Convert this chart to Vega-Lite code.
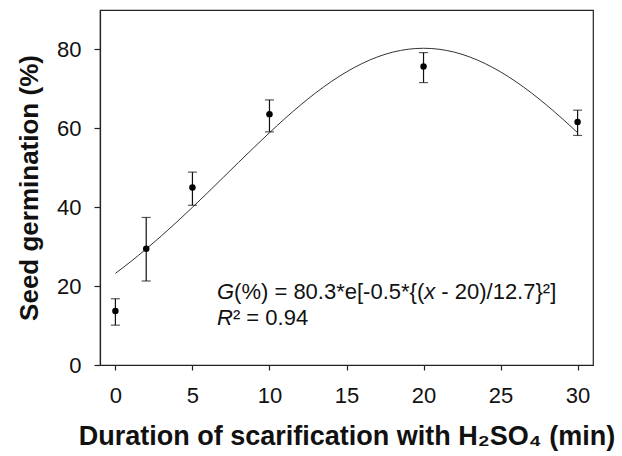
{
  "$schema": "https://vega.github.io/schema/vega-lite/v6.json",
  "width": 493,
  "height": 355,
  "autosize": "none",
  "padding": {"left": 100, "top": 10, "right": 29, "bottom": 91},
  "background": "white",
  "config": {
    "font": "Liberation Sans",
    "view": {"stroke": "#222222", "strokeWidth": 1.2},
    "axis": {
      "grid": false,
      "domainColor": "#222222",
      "domainWidth": 1.2,
      "tickColor": "#222222",
      "tickWidth": 1.2,
      "labelFont": "Liberation Sans",
      "labelFontSize": 22,
      "labelColor": "#111111",
      "titleFont": "Liberation Sans",
      "titleFontWeight": "bold",
      "titleColor": "#111111"
    }
  },
  "datasets": {
    "points": [
      {"time": 0, "germ": 13.7, "lo": 10.1, "hi": 16.8},
      {"time": 2, "germ": 29.5, "lo": 21.3, "hi": 37.4},
      {"time": 5, "germ": 45.0, "lo": 40.5, "hi": 48.9},
      {"time": 10, "germ": 63.6, "lo": 59.1, "hi": 67.2},
      {"time": 20, "germ": 75.7, "lo": 71.6, "hi": 79.2},
      {"time": 30, "germ": 61.6, "lo": 58.2, "hi": 64.6}
    ],
    "curve": [
      {"time": 0, "fit": 23.24}, {"time": 1, "fit": 26.23}, {"time": 2, "fit": 29.42},
      {"time": 3, "fit": 32.78}, {"time": 4, "fit": 36.31}, {"time": 5, "fit": 39.97},
      {"time": 6, "fit": 43.74}, {"time": 7, "fit": 47.56}, {"time": 8, "fit": 51.39},
      {"time": 9, "fit": 55.18}, {"time": 10, "fit": 58.89}, {"time": 11, "fit": 62.47},
      {"time": 12, "fit": 65.85}, {"time": 13, "fit": 68.99}, {"time": 14, "fit": 71.82},
      {"time": 15, "fit": 74.31}, {"time": 16, "fit": 76.41}, {"time": 17, "fit": 78.09},
      {"time": 18, "fit": 79.31}, {"time": 19, "fit": 80.05}, {"time": 20, "fit": 80.3},
      {"time": 21, "fit": 80.05}, {"time": 22, "fit": 79.31}, {"time": 23, "fit": 78.09},
      {"time": 24, "fit": 76.41}, {"time": 25, "fit": 74.31}, {"time": 26, "fit": 71.82},
      {"time": 27, "fit": 68.99}, {"time": 28, "fit": 65.85}, {"time": 29, "fit": 62.47},
      {"time": 30, "fit": 58.89}
    ],
    "italicText": [
      {"tx": 6.594, "ty": 16.73, "label": "G"},
      {"tx": 20.043, "ty": 16.73, "label": "x"},
      {"tx": 6.594, "ty": 10.14, "label": "R"}
    ],
    "plainText": [
      {"tx": 7.704, "ty": 16.73, "label": "(%) = 80.3*e[-0.5*{("},
      {"tx": 21.153, "ty": 16.73, "label": "- 20)/12.7}²]"},
      {"tx": 7.626, "ty": 10.14, "label": "² = 0.94"}
    ]
  },
  "layer": [
    {
      "data": {"name": "curve"},
      "mark": {"type": "line", "color": "#333333", "strokeWidth": 1, "interpolate": "monotone"},
      "encoding": {
        "x": {
          "field": "time", "type": "quantitative",
          "scale": {"domain": [-1, 31], "nice": false, "zero": false},
          "axis": {
            "values": [0, 5, 10, 15, 20, 25, 30],
            "tickSize": 5,
            "labelPadding": 15,
            "title": "Duration of scarification with H₂SO₄ (min)",
            "titleFontSize": 27,
            "titlePadding": 17
          }
        },
        "y": {
          "field": "fit", "type": "quantitative",
          "scale": {"domain": [0, 90], "nice": false},
          "axis": {
            "values": [0, 20, 40, 60, 80],
            "tickSize": 6,
            "labelPadding": 13,
            "title": "Seed germination (%)",
            "titleFontSize": 26,
            "titlePadding": 14
          }
        }
      }
    },
    {
      "data": {"name": "points"},
      "mark": {"type": "rule", "color": "#111111", "strokeWidth": 1.2},
      "encoding": {
        "x": {"field": "time", "type": "quantitative"},
        "y": {"field": "lo", "type": "quantitative"},
        "y2": {"field": "hi"}
      }
    },
    {
      "data": {"name": "points"},
      "mark": {"type": "tick", "orient": "horizontal", "color": "#111111", "size": 9, "thickness": 1.2},
      "encoding": {
        "x": {"field": "time", "type": "quantitative"},
        "y": {"field": "lo", "type": "quantitative"}
      }
    },
    {
      "data": {"name": "points"},
      "mark": {"type": "tick", "orient": "horizontal", "color": "#111111", "size": 9, "thickness": 1.2},
      "encoding": {
        "x": {"field": "time", "type": "quantitative"},
        "y": {"field": "hi", "type": "quantitative"}
      }
    },
    {
      "data": {"name": "points"},
      "mark": {"type": "point", "filled": true, "shape": "circle", "size": 42, "color": "#000000", "opacity": 1},
      "encoding": {
        "x": {"field": "time", "type": "quantitative"},
        "y": {"field": "germ", "type": "quantitative"}
      }
    },
    {
      "data": {"name": "italicText"},
      "mark": {"type": "text", "align": "left", "baseline": "alphabetic", "font": "Liberation Sans", "fontSize": 22, "fontStyle": "italic", "color": "#111111"},
      "encoding": {
        "x": {"field": "tx", "type": "quantitative"},
        "y": {"field": "ty", "type": "quantitative"},
        "text": {"field": "label"}
      }
    },
    {
      "data": {"name": "plainText"},
      "mark": {"type": "text", "align": "left", "baseline": "alphabetic", "font": "Liberation Sans", "fontSize": 22, "color": "#111111"},
      "encoding": {
        "x": {"field": "tx", "type": "quantitative"},
        "y": {"field": "ty", "type": "quantitative"},
        "text": {"field": "label"}
      }
    }
  ]
}
